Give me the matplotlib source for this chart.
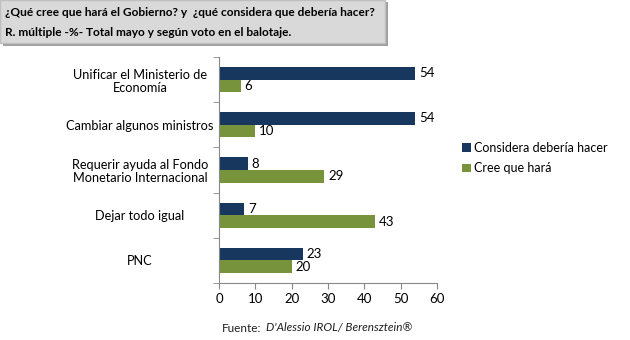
import matplotlib
matplotlib.use('Agg')
import matplotlib.pyplot as plt
import matplotlib.patches as patches
import numpy as np

plt.rcParams['font.family'] = ['Lato', 'DejaVu Sans']

categorias = ['Unificar el Ministerio de\nEconomía', 'Cambiar algunos ministros',
              'Requerir ayuda al Fondo\nMonetario Internacional', 'Dejar todo igual', 'PNC']
considera = [54, 54, 8, 7, 23]
cree = [6, 10, 29, 43, 20]
series = ['Considera debería hacer', 'Cree que hará']
color_azul = '#17375E'
color_verde = '#77933C'

fig = plt.figure(figsize=(6.3, 3.4), dpi=100)
ax = fig.add_axes([219/630, 1-283/340, (437-219)/630, (283-57)/340])

ind = np.arange(len(categorias))
h = 0.28
ax.barh(ind - h/2, considera, h, color=color_azul, label=series[0])
ax.barh(ind + h/2, cree, h, color=color_verde, label=series[1])
for i in ind:
    ax.text(considera[i] + 1, i - h/2, str(considera[i]), va='center', ha='left', fontsize=9.5)
    ax.text(cree[i] + 1, i + h/2, str(cree[i]), va='center', ha='left', fontsize=9.5)

ax.set_xlim(0, 60)
ax.set_ylim(len(categorias) - 0.5, -0.5)
ax.set_xticks(range(0, 61, 10))
ax.set_yticks(ind)
ax.set_yticklabels(categorias, fontsize=9.2, ha='center', linespacing=1.1)
ax.tick_params(axis='y', length=0, pad=57)
ax.set_yticks(np.arange(-0.5, len(categorias), 1), minor=True)
ax.tick_params(axis='y', which='minor', length=4, color='#888888')
ax.tick_params(axis='x', length=4, color='#888888', labelsize=9.5)
for s in ['top', 'right']:
    ax.spines[s].set_visible(False)
for s in ['left', 'bottom']:
    ax.spines[s].set_color('#888888')

leg = ax.legend(loc='center left', bbox_to_anchor=(462/630, 182/340), bbox_transform=fig.transFigure,
                frameon=False, fontsize=9, handlelength=0.7, handleheight=0.7, handletextpad=0.3,
                labelspacing=0.7, borderpad=0, borderaxespad=0)

# caja del título con sombra
fig.patches.append(patches.Rectangle((3/630, 1-46/340), 385/630, 44/340, transform=fig.transFigure,
                                     facecolor='#A0A0A0', edgecolor='none', zorder=0))
fig.patches.append(patches.Rectangle((0, 1-43/340), 385/630, 43/340, transform=fig.transFigure,
                                     facecolor='#D9D9D9', edgecolor='#BFBFBF', zorder=1))
fig.text(5/630, 1-13/340, '¿Qué cree que hará el Gobierno? y  ¿qué considera que debería hacer?',
         fontsize=8.6, fontweight='bold', va='center', ha='left')
fig.text(5/630, 1-32/340, 'R. múltiple -%- Total mayo y según voto en el balotaje.',
         fontsize=8.6, fontweight='bold', va='center', ha='left')

fuente = fig.text(222/630, 1-328/340, 'Fuente:', fontsize=8.5, color='#1F1F1F', va='center', ha='left')
fig.canvas.draw()
x_fin = fuente.get_window_extent().x1
fig.text((x_fin + 4)/630, 1-328/340, "D'Alessio IROL/ Berensztein®", fontsize=8.5, style='italic',
         color='#1F1F1F', va='center', ha='left')

fig.savefig('out.png', dpi=100)
